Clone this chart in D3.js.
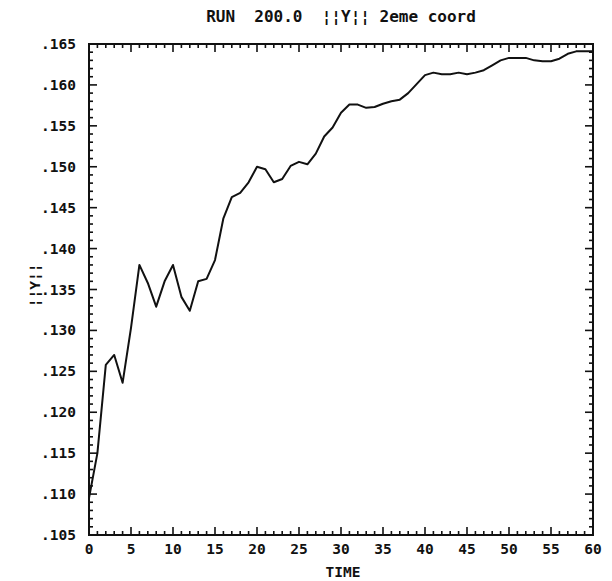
<!DOCTYPE html>
<html>
<head>
<meta charset="utf-8">
<script src="https://cdn.jsdelivr.net/npm/d3@7"></script>
<style>
  body { margin: 0; background: #fff; }
  text { font-family: "DejaVu Sans Mono", monospace; font-weight: bold; fill: #111; }
</style>
</head>
<body>
<svg id="chart" width="612" height="581"></svg>
<script>
var times = d3.range(0, 61);
var yValues = [
    0.1095, 0.1150, 0.1258, 0.1270, 0.1236, 0.1303, 0.1380, 0.1358, 0.1329, 0.1360,
    0.1380, 0.1341, 0.1324, 0.1360, 0.1363, 0.1386, 0.1437, 0.1463, 0.1468, 0.1481,
    0.1500, 0.1497, 0.1481, 0.1485, 0.1501, 0.1506, 0.1503, 0.1516, 0.1537, 0.1548,
    0.1566, 0.1576, 0.1576, 0.1572, 0.1573, 0.1577, 0.1580, 0.1582, 0.1590, 0.1601,
    0.1612, 0.1615, 0.1613, 0.1613, 0.1615, 0.1613, 0.1615, 0.1618, 0.1624, 0.1630,
    0.1633, 0.1633, 0.1633, 0.1630, 0.1629, 0.1629, 0.1632, 0.1638, 0.1641, 0.1641,
    0.1641
];
var xTickLabels = [0, 5, 10, 15, 20, 25, 30, 35, 40, 45, 50, 55, 60];
var yTickLabels = [".105", ".110", ".115", ".120", ".125", ".130", ".135",
                   ".140", ".145", ".150", ".155", ".160", ".165"];
var titleText = "RUN  200.0  \u00a6\u00a6Y\u00a6\u00a6 2eme coord";
var xTitle = "TIME";
var yTitle = "\u00a6\u00a6Y\u00a6\u00a6";

var plotLeft = 89, plotRight = 593, plotTop = 44, plotBottom = 535;
var svg = d3.select("#chart");

var x = d3.scaleLinear().domain([0, 60]).range([plotLeft, plotRight]);
var y = d3.scaleLinear().domain([0.105, 0.165]).range([plotBottom, plotTop]);

var minorX = d3.range(0, 61);
var minorY = d3.range(0, 61).map(function(i) { return 0.105 + i * 0.001; });

var tickLen = function(i) { return i % 5 === 0 ? 8 : 4; };

// ticks, all pointing inward
var ticks = svg.append("g").attr("stroke", "#111").attr("stroke-width", 1.6);
ticks.selectAll(".tb").data(minorX).enter().append("line")
    .attr("x1", function(d) { return x(d); }).attr("x2", function(d) { return x(d); })
    .attr("y1", plotBottom).attr("y2", function(d, i) { return plotBottom - tickLen(i); });
ticks.selectAll(".tt").data(minorX).enter().append("line")
    .attr("x1", function(d) { return x(d); }).attr("x2", function(d) { return x(d); })
    .attr("y1", plotTop).attr("y2", function(d, i) { return plotTop + tickLen(i); });
ticks.selectAll(".tl").data(minorY).enter().append("line")
    .attr("y1", function(d) { return y(d); }).attr("y2", function(d) { return y(d); })
    .attr("x1", plotLeft).attr("x2", function(d, i) { return plotLeft + tickLen(i); });
ticks.selectAll(".tr").data(minorY).enter().append("line")
    .attr("y1", function(d) { return y(d); }).attr("y2", function(d) { return y(d); })
    .attr("x1", plotRight).attr("x2", function(d, i) { return plotRight - tickLen(i); });

svg.append("rect")
    .attr("x", plotLeft).attr("y", plotTop)
    .attr("width", plotRight - plotLeft).attr("height", plotBottom - plotTop)
    .attr("fill", "none").attr("stroke", "#111").attr("stroke-width", 2);

svg.selectAll(".xl").data(xTickLabels).enter().append("text")
    .attr("x", function(d) { return x(d); })
    .attr("y", plotBottom + 19)
    .attr("text-anchor", "middle")
    .attr("font-size", 14.5)
    .text(function(d) { return d; });

svg.selectAll(".yl").data(yTickLabels).enter().append("text")
    .attr("x", plotLeft - 13)
    .attr("y", function(d) { return y(+("0" + d)) + 5; })
    .attr("text-anchor", "end")
    .attr("font-size", 14.5)
    .text(function(d) { return d; });

svg.append("text").attr("x", 341).attr("y", 22)
    .attr("text-anchor", "middle").attr("font-size", 16)
    .attr("xml:space", "preserve")
    .text(titleText);

svg.append("text").attr("x", 343).attr("y", 577)
    .attr("text-anchor", "middle").attr("font-size", 14.5)
    .text(xTitle);

svg.append("text")
    .attr("transform", "translate(40," + y(0.1355) + ") rotate(-90)")
    .attr("text-anchor", "middle").attr("font-size", 14.5)
    .text(yTitle);

var line = d3.line()
    .x(function(d, i) { return x(times[i]); })
    .y(function(d) { return y(d); });

svg.append("path")
    .datum(yValues)
    .attr("d", line)
    .attr("fill", "none")
    .attr("stroke", "#111")
    .attr("stroke-width", 2)
    .attr("stroke-linejoin", "round");
</script>
</body>
</html>
